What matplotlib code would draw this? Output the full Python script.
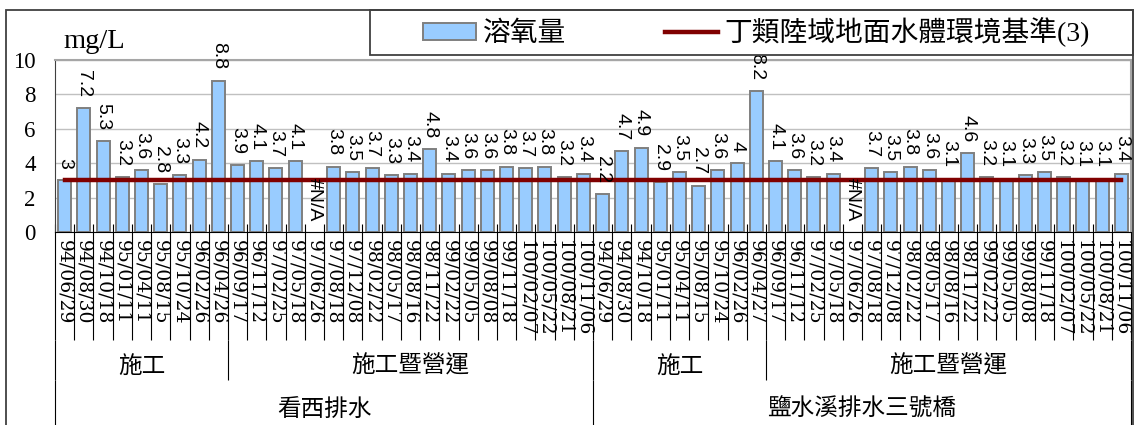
#!/usr/bin/env python3
"""Dissolved oxygen at two drainage stations, with the class D standard line."""

import matplotlib.pyplot as plt
import numpy as np
from matplotlib.patches import Rectangle

plt.rcParams["font.family"] = ["Liberation Serif", "Noto Sans CJK TC"]

# --- data -----------------------------------------------------------------
SITES = ["看西排水", "鹽水溪排水三號橋"]
PHASES = ["施工", "施工暨營運"]
PHASE_SIZES = [9, 19]

DATES_KANXI = [
    "94/06/29", "94/08/30", "94/10/18", "95/01/11", "95/04/11", "95/08/15",
    "95/10/24", "96/02/26", "96/04/26", "96/09/17", "96/11/12", "97/02/25",
    "97/05/18", "97/06/26", "97/08/18", "97/12/08", "98/02/22", "98/05/17",
    "98/08/16", "98/11/22", "99/02/22", "99/05/05", "99/08/08", "99/11/18",
    "100/02/07", "100/05/22", "100/08/21", "100/11/06",
]
DATES_YANSHUI = [
    "94/06/29", "94/08/30", "94/10/18", "95/01/11", "95/04/11", "95/08/15",
    "95/10/24", "96/02/26", "96/04/27", "96/09/17", "96/11/12", "97/02/25",
    "97/05/18", "97/06/26", "97/08/18", "97/12/08", "98/02/22", "98/05/17",
    "98/08/16", "98/11/22", "99/02/22", "99/05/05", "99/08/08", "99/11/18",
    "100/02/07", "100/05/22", "100/08/21", "100/11/06",
]
DO_KANXI = [3, 7.2, 5.3, 3.2, 3.6, 2.8, 3.3, 4.2, 8.8,
            3.9, 4.1, 3.7, 4.1, None, 3.8, 3.5, 3.7, 3.3, 3.4, 4.8,
            3.4, 3.6, 3.6, 3.8, 3.7, 3.8, 3.2, 3.4]
DO_YANSHUI = [2.2, 4.7, 4.9, 2.9, 3.5, 2.7, 3.6, 4, 8.2,
              4.1, 3.6, 3.2, 3.4, None, 3.7, 3.5, 3.8, 3.6, 3.1, 4.6,
              3.2, 3.1, 3.3, 3.5, 3.2, 3.1, 3.1, 3.4]
STANDARD = 3

BAR_LABEL = "溶氧量"
LINE_LABEL = "丁類陸域地面水體環境基準(3)"
UNIT = "mg/L"

# --- layout (pixels of a 1139x425 canvas) ---------------------------------
W, H = 1139, 425
AX_L, AX_R, AX_T, AX_B = 55, 1131, 60, 232


def ay(ypx):
    """pixel row -> axes fraction"""
    return (AX_B - ypx) / (AX_B - AX_T)


dates = DATES_KANXI + DATES_YANSHUI
values = np.array([np.nan if v is None else v for v in DO_KANXI + DO_YANSHUI], dtype=float)
x = np.arange(len(dates))

fig = plt.figure(figsize=(W / 100, H / 100), dpi=100)
ax = fig.add_axes([AX_L / W, (H - AX_B) / H, (AX_R - AX_L) / W, (AX_B - AX_T) / H])

bars = ax.bar(x, values, width=0.68, color="#99CCFF", edgecolor="#7f7f7f",
              linewidth=1.4, zorder=2, label=BAR_LABEL)
line, = ax.plot(x, np.full(len(x), STANDARD), color="#800000", linewidth=3.2,
                zorder=3, label=LINE_LABEL)

# data labels, rotated like the original
for xi, v in zip(x, values):
    txt = "#N/A" if np.isnan(v) else f"{v:g}"
    ax.annotate(txt, (xi, 0 if np.isnan(v) else v), xytext=(0, 8),
                textcoords="offset points", rotation=270, ha="center",
                va="bottom", fontsize=14, family="Liberation Sans",
                annotation_clip=False, zorder=4)

ax.set_xlim(-0.5, len(x) - 0.5)
ax.set_ylim(0, 10)
ax.set_yticks(np.arange(0, 11, 2))
ax.yaxis.grid(True, color="#c0c0c0", linewidth=1)
ax.set_axisbelow(True)
ax.tick_params(axis="y", length=0, pad=14, labelsize=16.5)

ax.set_xticks(x)
ax.set_xticklabels(dates, rotation=270, family="DejaVu Serif", fontsize=13.5)
ax.tick_params(axis="x", length=0, pad=6)

for side in ("top", "right"):
    ax.spines[side].set_color("#a6a6a6")
    ax.spines[side].set_linewidth(1.5)
ax.spines["left"].set_color("#404040")
ax.spines["bottom"].set_color("black")

# multi-level category axis: separators
trans = ax.get_xaxis_transform()
edges = np.arange(len(x) + 1) - 0.5
ax.vlines(edges, ay(340), ay(224), transform=trans, colors="black",
          linewidth=0.8, clip_on=False)

n_site = len(DATES_KANXI)
phase_edges = [0]
for s in range(len(SITES)):
    for size in PHASE_SIZES:
        phase_edges.append(phase_edges[-1] + size)
ax.vlines(np.array(phase_edges) - 0.5, ay(380), ay(340), transform=trans,
          colors="black", linewidth=0.8, clip_on=False)
site_edges = np.arange(len(SITES) + 1) * n_site - 0.5
ax.vlines(site_edges, ay(440), ay(380), transform=trans, colors="black",
          linewidth=0.8, clip_on=False)

for i in range(len(phase_edges) - 1):
    mid = (phase_edges[i] + phase_edges[i + 1] - 1) / 2
    ax.text(mid, ay(366), PHASES[i % len(PHASES)], transform=trans,
            ha="center", va="center", fontsize=17, family="Noto Sans CJK TC")
for s, site in enumerate(SITES):
    mid = s * n_site + (n_site - 1) / 2
    ax.text(mid, ay(409), site, transform=trans, ha="center", va="center",
            fontsize=17, family="Noto Sans CJK TC")

fig.text(63 / W, 1 - 41 / H, UNIT, fontsize=20.5, ha="left", va="center")

# chart frame and legend box
fig.add_artist(Rectangle((6 / W, -0.05), 1127 / W, 1.05 - 10 / H,
                         transform=fig.transFigure, facecolor="none",
                         edgecolor="#404040", linewidth=1.3, zorder=6))
fig.add_artist(Rectangle((370 / W, 1 - 55 / H), 763 / W, 45 / H,
                         transform=fig.transFigure, facecolor="white",
                         edgecolor="#404040", linewidth=1.3, zorder=4))
leg = fig.legend([bars, line], [BAR_LABEL, LINE_LABEL], ncol=2, mode="expand",
                 loc="center", bbox_to_anchor=(423 / W, 1 - 55 / H, 667 / W, 45 / H),
                 frameon=False, fontsize=20, handlelength=1.9, handleheight=0.52,
                 handletextpad=0.25, borderpad=0, borderaxespad=0)
leg.set_zorder(5)

fig.savefig("out.png", dpi=100)
